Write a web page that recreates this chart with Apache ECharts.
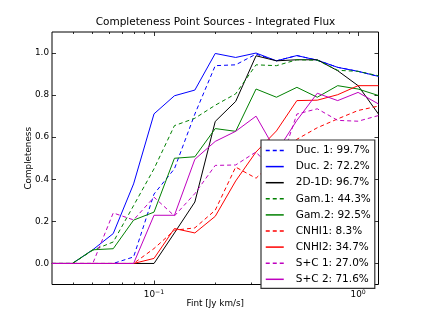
<!DOCTYPE html>
<html>
<head>
<meta charset="utf-8">
<script src="https://cdn.jsdelivr.net/npm/echarts@6/dist/echarts.min.js"></script>
<style>
html,body{margin:0;padding:0;background:#fff;}
#chart{width:421px;height:316px;}
</style>
</head>
<body>
<div id="chart"></div>
<script>
// Flux bins (Jy km/s), log-spaced
var flux = [0.0316, 0.0398, 0.0501, 0.0631, 0.0794, 0.1, 0.1259, 0.1585, 0.1995, 0.2512, 0.3162, 0.3981, 0.5012, 0.631, 0.7943, 1.0, 1.2589];

var seriesNames = ['Duc. 1: 99.7%', 'Duc. 2: 72.2%', '2D-1D: 96.7%', 'Gam.1: 44.3%', 'Gam.2: 92.5%', 'CNHI1: 8.3%', 'CNHI2: 34.7%', 'S+C 1: 27.0%', 'S+C 2: 71.6%'];

var duc1  = [0, 0, 0, 0, 0.031, 0.33, 0.45, 0.71, 0.94, 0.944, 0.995, 0.963, 0.988, 0.966, 0.932, 0.913, 0.889];
var duc2  = [0, 0, 0.065, 0.142, 0.378, 0.711, 0.797, 0.824, 0.998, 0.979, 1.0, 0.963, 0.988, 0.966, 0.932, 0.913, 0.889];
var d2d1d = [0, 0, 0, 0, 0, 0, 0.145, 0.292, 0.675, 0.77, 0.987, 0.963, 0.968, 0.968, 0.916, 0.845, 0.71];
var gam1  = [0, 0, 0.063, 0.102, 0.275, 0.45, 0.655, 0.69, 0.752, 0.806, 0.944, 0.94, 0.968, 0.966, 0.918, 0.913, 0.892];
var gam2  = [0, 0, 0.065, 0.07, 0.206, 0.244, 0.5, 0.507, 0.641, 0.628, 0.829, 0.79, 0.837, 0.79, 0.845, 0.829, 0.798];
var cnhi1 = [0, 0, 0, 0, 0, 0.071, 0.158, 0.169, 0.253, 0.458, 0.405, 0.5, 0.59, 0.645, 0.687, 0.727, 0.748];
var cnhi2 = [0, 0, 0, 0, 0, 0.024, 0.166, 0.145, 0.224, 0.392, 0.53, 0.63, 0.774, 0.776, 0.802, 0.845, 0.845];
var sc1   = [0, 0, 0, 0.24, 0.207, 0.315, 0.226, 0.332, 0.466, 0.468, 0.53, 0.42, 0.71, 0.735, 0.68, 0.676, 0.703];
var sc2   = [0, 0, 0, 0, 0, 0.229, 0.229, 0.495, 0.58, 0.628, 0.7, 0.53, 0.68, 0.809, 0.774, 0.813, 0.758];

var yTicks = [0.0, 0.2, 0.4, 0.6, 0.8, 1.0];
var xMajorTicks = [0.1, 1.0];
var xMinorTicks = [0.04, 0.05, 0.06, 0.07, 0.08, 0.09, 0.2, 0.3, 0.4, 0.5, 0.6, 0.7, 0.8, 0.9];
var xRange = [0.031623, 1.258925];

var allValues = [duc1, duc2, d2d1d, gam1, gam2, cnhi1, cnhi2, sc1, sc2];
var colors = ['#0000ff', '#0000ff', '#000000', '#008000', '#008000', '#ff0000', '#ff0000', '#bf00bf', '#bf00bf'];
var dashed = [true, false, false, true, false, true, false, true, false];

var L = function (v) { return Math.log10(v); };
var FONT = 'DejaVu Sans';

var series = allValues.map(function (vals, i) {
  return {
    name: seriesNames[i],
    type: 'line',
    xAxisIndex: 0,
    yAxisIndex: 0,
    symbol: 'none',
    showSymbol: false,
    animation: false,
    lineStyle: { color: colors[i], width: 1, type: dashed[i] ? [4, 3] : 'solid' },
    itemStyle: { color: colors[i] },
    data: vals.map(function (v, j) { return [L(flux[j]), v]; })
  };
});

var xMin = L(xRange[0]), xMax = L(xRange[1]);
var supMap = { '-1': '\u22121', '0': '0' };
var tickLine = { color: '#000', width: 0.8 };

function xAxisBase(pos) {
  return {
    type: 'value', position: pos, min: xMin, max: xMax,
    splitLine: { show: false }, axisLine: { show: false, onZero: false }
  };
}

var xAxes = [
  Object.assign(xAxisBase('bottom'), {
    name: 'Fint [Jy km/s]', nameLocation: 'middle', nameGap: 15, nameMoveOverlap: false,
    nameTextStyle: { fontFamily: FONT, fontSize: 8.8, color: '#000' },
    axisTick: { show: true, inside: true, length: 4, customValues: xMajorTicks.map(L), lineStyle: tickLine },
    axisLabel: {
      show: true, margin: 5, customValues: xMajorTicks.map(L),
      formatter: function (v) { var e = String(Math.round(v)); return '{b|10}{s|' + (supMap[e] || e) + '}'; },
      rich: {
        b: { fontFamily: FONT, fontSize: 8.8, color: '#000' },
        s: { fontFamily: FONT, fontSize: 6.2, color: '#000', verticalAlign: 'top', padding: [0, 0, 5, 0] }
      }
    }
  }),
  Object.assign(xAxisBase('bottom'), {
    axisTick: { show: true, inside: true, length: 2, customValues: xMinorTicks.map(L), lineStyle: tickLine },
    axisLabel: { show: false }
  }),
  Object.assign(xAxisBase('top'), {
    axisTick: { show: true, inside: true, length: 4, customValues: xMajorTicks.map(L), lineStyle: tickLine },
    axisLabel: { show: false }
  }),
  Object.assign(xAxisBase('top'), {
    axisTick: { show: true, inside: true, length: 2, customValues: xMinorTicks.map(L), lineStyle: tickLine },
    axisLabel: { show: false }
  })
];

var yAxes = [
  {
    type: 'value', position: 'left', min: -0.1, max: 1.1,
    name: 'Completeness', nameLocation: 'middle', nameGap: 19, nameRotate: 90, nameMoveOverlap: false,
    nameTextStyle: { fontFamily: FONT, fontSize: 8.8, color: '#000' },
    splitLine: { show: false }, axisLine: { show: false, onZero: false },
    axisTick: { show: true, inside: true, length: 4, customValues: yTicks, lineStyle: tickLine },
    axisLabel: { show: true, margin: 3, customValues: yTicks, fontFamily: FONT, fontSize: 8.8, color: '#000',
      formatter: function (v) { return v.toFixed(1); } }
  },
  {
    type: 'value', position: 'right', min: -0.1, max: 1.1,
    splitLine: { show: false }, axisLine: { show: false, onZero: false },
    axisTick: { show: true, inside: true, length: 4, customValues: yTicks, lineStyle: tickLine },
    axisLabel: { show: false }
  }
];

var chart = echarts.init(document.getElementById('chart'), null, { renderer: 'canvas' });
chart.setOption({
  animation: false,
  backgroundColor: '#fff',
  title: {
    text: 'Completeness Point Sources - Integrated Flux',
    left: 215.5, top: 17, textAlign: 'center', padding: 0,
    textStyle: { fontFamily: FONT, fontSize: 10.5, fontWeight: 'normal', color: '#000' }
  },
  grid: { left: 52, top: 32, width: 326.5, height: 252.5, show: true, borderColor: '#000', borderWidth: 1, backgroundColor: 'transparent', containLabel: false },
  xAxis: xAxes,
  yAxis: yAxes,
  legend: {
    orient: 'vertical', left: 261, top: 140,
    padding: [5, 4, 3.5, 4],
    itemWidth: 18, itemHeight: 10, itemGap: 5.1,
    backgroundColor: '#fff', borderColor: '#333', borderWidth: 1.2,
    itemStyle: { opacity: 0, borderWidth: 0 },
    lineStyle: { width: 1.5 },
    textStyle: { fontFamily: FONT, fontSize: 10.5, color: '#000', lineHeight: 10, padding: [0, 0, 0, 7] },
    data: seriesNames
  },
  series: series
});
</script>
</body>
</html>
